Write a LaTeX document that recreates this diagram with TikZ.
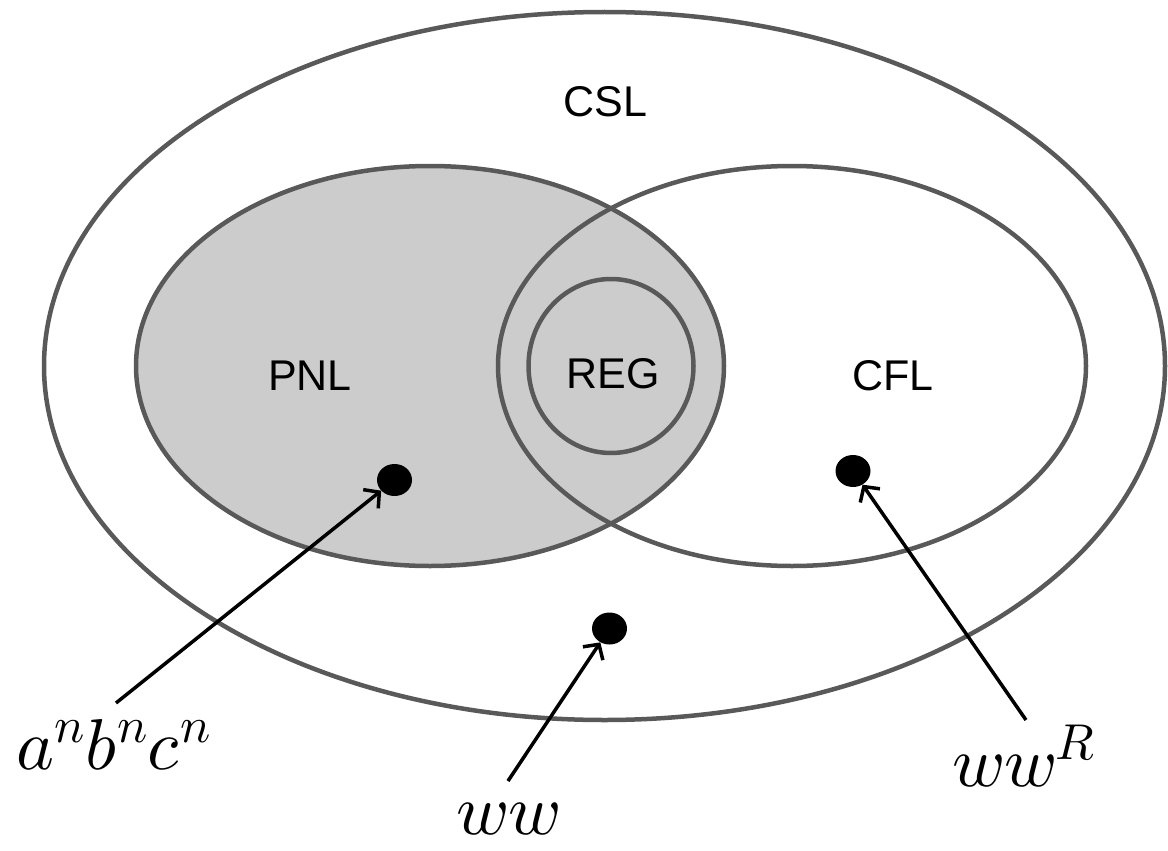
\documentclass[tikz,border=0pt]{standalone}
\usepackage{fontspec}
\usepackage{unicode-math}
\setmainfont{Liberation Sans}
\usetikzlibrary{shapes.geometric,arrows.meta}

\definecolor{setline}{HTML}{595959}
\definecolor{setfill}{HTML}{CCCCCC}

\tikzset{
  langset/.style={ellipse,draw=setline,line width=4.5pt,inner sep=0pt},
  setname/.style={font=\fontsize{43}{50}\selectfont,anchor=base,inner sep=0pt},
  word/.style={ellipse,fill=black,inner sep=0pt,minimum width=35pt,minimum height=32pt},
  wordname/.style={font=\fontsize{72}{80}\selectfont,anchor=base,inner sep=0pt},
  pointer/.style={line width=3.5pt,-{Straight Barb[length=11pt,width=24pt]}}
}

\begin{document}
\begin{tikzpicture}[x=1pt,y=-1pt]
  \useasboundingbox (0,0) rectangle (1168,851);

  % classes
  \node[langset,minimum width=1121pt,minimum height=708pt] (csl) at (604.5,366) {};
  \node[langset,fill=setfill,minimum width=588pt,minimum height=400pt] (pnl) at (430,366) {};
  \node[langset,minimum width=588pt,minimum height=400pt] (cfl) at (792,366) {};
  \node[langset,minimum width=165pt,minimum height=174pt] (reg) at (611,366) {};

  \begin{scope}[every node/.style={setname}]
    \node (csl-name) at (605.5,117) {CSL};
    \node (pnl-name) at (310,390)   {PNL};
    \node (reg-name) at (613,388)   {REG};
    \node (cfl-name) at (893,390)   {CFL};
  \end{scope}

  % sample languages
  \begin{scope}[every node/.style={word}]
    \node (anbncn) at (394.5,480)   {};
    \node (wwr)    at (853,471)     {};
    \node (ww)     at (609.5,628.5) {};
  \end{scope}

  \begin{scope}[every node/.style={wordname}]
    \node (anbncn-name) at (114,769)  {$a^n b^n c^n$};
    \node (ww-name)     at (508,834)  {$ww$};
    \node (wwr-name)    at (1024,786) {$ww^R$};
  \end{scope}

  \coordinate (anbncn-tail) at (116,703);
  \coordinate (ww-tail)     at (508,781);
  \coordinate (wwr-tail)    at (1026,720);

  \begin{scope}[every edge/.style={draw,pointer}]
    \path (anbncn-tail) edge (anbncn);
    \path (ww-tail)     edge (ww);
    \path (wwr-tail)    edge (wwr);
  \end{scope}

\end{tikzpicture}
\end{document}
